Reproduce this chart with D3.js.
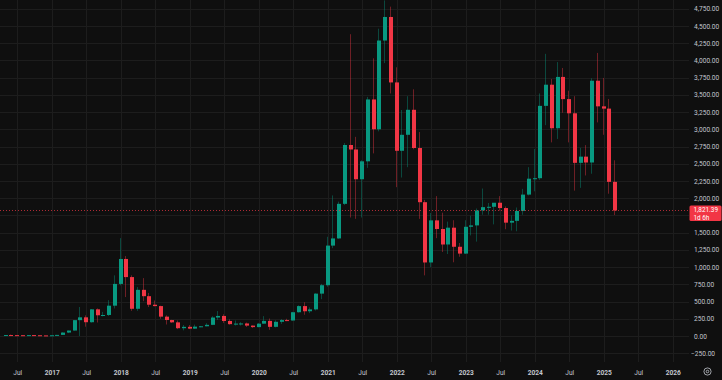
<!DOCTYPE html>
<html>
<head>
<meta charset="utf-8">
<script src="https://cdn.jsdelivr.net/npm/d3@7"></script>
<style>
  html, body { margin: 0; padding: 0; background: #0f0f0f; }
  svg { display: block; }
  text { font-family: Roboto, "Noto Sans", sans-serif; }
</style>
</head>
<body>
<svg id="chart" width="722" height="380"></svg>
<script>
// ETH/USD monthly candles, May 2016 .. Mar 2025
const firstMonth = '2016-05';
const open = [
  8.8, 14.0, 12.4, 11.7, 11.6, 13.2, 11.0, 8.6,
  8.0, 10.7, 16.0, 50, 79, 230, 271, 200, 387, 301, 305, 440,
  756, 1118, 855, 395, 670, 578, 454, 434, 281, 232, 198, 113,
  133, 107, 136, 141, 162, 268, 291, 218, 172, 180, 182, 151,
  129, 179, 219, 133, 206, 231, 225, 345, 434, 359, 386, 615,
  737, 1312, 1416, 1918, 2772, 2707, 2275, 2535, 3433, 3000, 4288, 4630,
  3680, 2688, 2920, 3283, 2728, 1942, 1067, 1678, 1553, 1328, 1572, 1295,
  1196, 1585, 1605, 1822, 1870, 1875, 1934, 1857, 1645, 1671, 1815, 2052,
  2283, 2290, 3340, 3647, 3015, 3760, 3438, 3232, 2513, 2603, 2518, 3705,
  3333, 3300, 2237
];
const high = [
  14.8, 21.5, 14.9, 12.2, 14.3, 14.0, 11.3, 8.8,
  11.4, 16.5, 55, 80, 230, 421, 300, 392, 400, 350, 520, 880,
  1420, 1160, 880, 710, 840, 625, 515, 440, 300, 235, 225, 160,
  160, 165, 145, 185, 287, 362, 315, 240, 225, 200, 195, 153,
  186, 288, 253, 228, 245, 250, 350, 445, 490, 415, 620, 756,
  1440, 2040, 1950, 2800, 4380, 2890, 2550, 3470, 4030, 4460, 4870, 4780,
  3900, 3280, 3480, 3580, 2960, 1975, 1785, 2030, 1790, 1660, 1680, 1350,
  1680, 1745, 1850, 2140, 1930, 1930, 2030, 1880, 1750, 1865, 2135, 2450,
  2715, 3520, 4095, 3730, 3975, 3890, 3560, 3480, 2730, 2770, 3740, 4108,
  3745, 3440, 2550
];
const low = [
  8.7, 11.0, 10.6, 7.0, 11.2, 10.5, 8.3, 6.9,
  8.0, 10.4, 15.7, 42, 78, 0.1, 135, 194, 196, 285, 290, 400,
  735, 565, 365, 365, 505, 420, 430, 250, 167, 190, 100, 82,
  100, 102, 128, 140, 158, 233, 190, 165, 152, 152, 131, 117,
  126, 178, 90, 125, 176, 215, 222, 340, 308, 332, 370, 535,
  715, 1275, 1410, 1900, 1720, 1700, 1720, 2440, 2650, 2970, 3960, 3520,
  2160, 2300, 2450, 2710, 1700, 880, 1000, 1420, 1220, 1190, 1070, 1150,
  1190, 1460, 1370, 1760, 1760, 1620, 1820, 1550, 1530, 1520, 1760, 2040,
  2100, 2265, 3060, 2810, 2860, 3240, 2810, 2110, 2150, 2330, 2355, 3100,
  2920, 2065, 1755
];
const close = [
  14.0, 12.4, 11.7, 11.6, 13.2, 11.0, 8.6, 8.0,
  10.7, 16.0, 50, 79, 230, 271, 200, 387, 301, 305, 440, 756,
  1118, 855, 395, 670, 578, 454, 434, 281, 232, 198, 113, 133,
  107, 136, 141, 162, 268, 291, 218, 172, 180, 182, 151, 129,
  179, 219, 133, 206, 231, 225, 345, 434, 359, 386, 615, 737,
  1312, 1416, 1918, 2772, 2707, 2275, 2535, 3433, 3000, 4288, 4630, 3680,
  2688, 2920, 3283, 2728, 1942, 1067, 1678, 1553, 1328, 1572, 1295, 1196,
  1585, 1605, 1822, 1870, 1875, 1934, 1857, 1645, 1671, 1815, 2052, 2283,
  2290, 3340, 3647, 3015, 3760, 3438, 3232, 2513, 2603, 2518, 3705, 3333,
  3300, 2237, 1821.39
];
const lastPrice = 1821.39;
const countdown = '1d 6h';
const priceTicks = d3.range(-250, 5000, 250);
const firstTickMonth = '2016-07';
const lastTickMonth = '2026-01';

const width = 722, height = 380;
const plotRight = 689, plotBottom = 362;
const up = '#089981', down = '#f23645';

const parseMonth = d3.timeParse('%Y-%m');
const base = parseMonth('2017-01');
const monthIndex = (d) => d3.timeMonth.count(base, d);

const start = parseMonth(firstMonth);
const candles = open.map((o, i) => ({
  date: d3.timeMonth.offset(start, i),
  o, h: high[i], l: low[i], c: close[i],
}));

const x = d3.scaleLinear().domain([0, 108]).range([51.7, 672.7]);
const y = d3.scaleLinear().domain([0, 4750]).range([336, 8.7]);

const svg = d3.select('#chart');
svg.append('rect').attr('width', width).attr('height', height).attr('fill', '#0f0f0f');

const timeTicks = d3.timeMonth.every(6).range(parseMonth(firstTickMonth), d3.timeMonth.offset(parseMonth(lastTickMonth), 1));

// grid
const grid = svg.append('g').attr('stroke', '#1d1d1d').attr('stroke-width', 1);
grid.selectAll('line.v').data(timeTicks).enter().append('line')
    .attr('x1', (d) => Math.round(x(monthIndex(d))) + 0.5)
    .attr('x2', (d) => Math.round(x(monthIndex(d))) + 0.5)
    .attr('y1', 0).attr('y2', plotBottom);
grid.selectAll('line.h').data(priceTicks).enter().append('line')
    .attr('x1', 0).attr('x2', plotRight)
    .attr('y1', (d) => Math.round(y(d)) + 0.5)
    .attr('y2', (d) => Math.round(y(d)) + 0.5);

// candles
const candleGroup = svg.append('g');
const cg = candleGroup.selectAll('g').data(candles).enter().append('g')
    .attr('transform', (d) => `translate(${Math.round(x(monthIndex(d.date)) - 2)},0)`);
cg.append('line')
    .attr('x1', 1.5).attr('x2', 1.5)
    .attr('y1', (d) => y(d.h)).attr('y2', (d) => y(d.l))
    .attr('stroke', (d) => d.c >= d.o ? up : down)
    .attr('stroke-opacity', 0.42);
cg.append('rect')
    .attr('x', 0).attr('width', 4)
    .attr('y', (d) => y(Math.max(d.o, d.c)))
    .attr('height', (d) => Math.max(1, y(Math.min(d.o, d.c)) - y(Math.max(d.o, d.c))))
    .attr('fill', (d) => d.c >= d.o ? up : down);

// last price line
const lastY = Math.round(y(lastPrice));
svg.append('line')
    .attr('x1', 0).attr('x2', plotRight)
    .attr('y1', lastY + 0.5).attr('y2', lastY + 0.5)
    .attr('stroke', down).attr('stroke-opacity', 0.7)
    .attr('stroke-dasharray', '1,2');

// price axis, labels hidden under the last price box
const boxTop = lastY - 4.5, boxHeight = 15.5;
const visibleTicks = priceTicks.filter((d) => y(d) < boxTop - 3 || y(d) > boxTop + boxHeight + 3);
const yAxis = d3.axisRight(y).tickValues(visibleTicks).tickSize(0).tickPadding(5)
    .tickFormat(d3.format(',.2f'));
const yg = svg.append('g').attr('transform', `translate(${plotRight},0)`).call(yAxis);
yg.select('.domain').remove();
yg.selectAll('text')
    .attr('fill', '#c3c6ce').attr('font-size', 6.6)
    .attr('font-family', 'Roboto, sans-serif')
    .attr('x', (d) => d < 0 ? 2 : 5);

// time axis
const xAxis = d3.axisBottom(x).tickValues(timeTicks.map(monthIndex)).tickSize(0).tickPadding(0)
    .tickFormat((m) => m % 12 === 0 ? String(2017 + m / 12) : 'Jul');
const xg = svg.append('g').attr('transform', `translate(0,${plotBottom})`).call(xAxis);
xg.select('.domain').remove();
xg.selectAll('text')
    .attr('fill', '#c3c6ce').attr('font-size', 6.6)
    .attr('font-family', 'Roboto, sans-serif')
    .attr('dy', null).attr('y', 12.5)
    .attr('font-weight', (m) => m % 12 === 0 ? 'bold' : 'normal');

// last price label
const label = svg.append('g').attr('transform', `translate(689.5,${boxTop})`);
label.append('rect').attr('width', 32).attr('height', boxHeight).attr('rx', 1.5).attr('fill', down);
label.append('text').attr('x', 4).attr('y', 6.4).text(d3.format(',.2f')(lastPrice))
    .attr('fill', '#ffffff').attr('font-size', 6.4);
label.append('text').attr('x', 4).attr('y', 14).text(countdown)
    .attr('fill', '#ffffff').attr('font-size', 6.4);

// settings icon
const icon = svg.append('g').attr('transform', 'translate(707.5,371.5)')
    .attr('fill', 'none').attr('stroke', '#c3c6ce').attr('stroke-width', 0.8);
icon.append('circle').attr('r', 3.6);
icon.append('circle').attr('r', 1.3);
</script>
</body>
</html>
